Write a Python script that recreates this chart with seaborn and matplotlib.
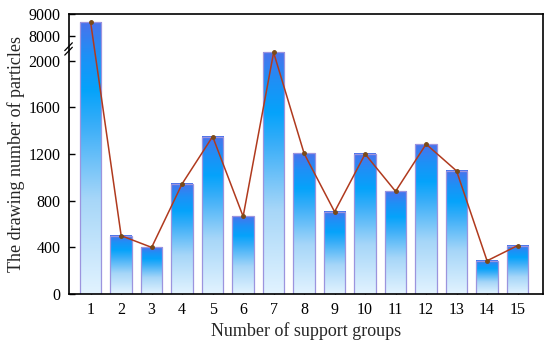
import numpy as np
import matplotlib
matplotlib.use("Agg")
import matplotlib.pyplot as plt
import seaborn as sns
from matplotlib.colors import LinearSegmentedColormap
from matplotlib.transforms import BboxTransformTo, TransformedBbox

# data
groups = [str(i) for i in range(1, 16)]
counts = [8620, 500, 400, 945, 1350, 665, 2070, 1205, 705, 1200, 880, 1285, 1055, 285, 415]
yticks = [0, 400, 800, 1200, 1600, 2000, 8000, 9000]

sns.set_theme(style="white")
plt.rcParams['font.family'] = ['Liberation Serif', 'DejaVu Serif']

# broken y axis: linear 0..LOW, squeezed gap, compressed linear HIGH..9000
LOW, HIGH, RATIO, EPS = 2112, 7500, 0.1923, 1e-6


def fwd(y):
    y = np.asarray(y, dtype=float)
    mid = LOW + (y - LOW) * EPS
    top = LOW + (HIGH - LOW) * EPS + (y - HIGH) * RATIO
    return np.where(y <= LOW, y, np.where(y < HIGH, mid, top))


def inv(v):
    v = np.asarray(v, dtype=float)
    g = LOW + (HIGH - LOW) * EPS
    mid = LOW + (v - LOW) / EPS
    top = HIGH + (v - g) / RATIO
    return np.where(v <= LOW, v, np.where(v < g, mid, top))


fig = plt.figure(figsize=(5.5, 3.48), dpi=100)
ax = fig.add_axes([0.1255, 0.155, 0.8615, 0.805])
ax.set_yscale('function', functions=(fwd, inv))

sns.barplot(x=groups, y=counts, ax=ax, width=0.7, color='#2F9BF5', saturation=1)

# vertical gradient inside each bar
grad_cmap = LinearSegmentedColormap.from_list(
    'bar', [(0.0, '#E2F3FF'), (0.35, '#A6D6F8'), (0.62, '#3AAEF8'),
            (0.75, '#05A3FB'), (0.88, '#1E90F6'), (1.0, '#4A72EC')])
grad = grad_cmap(np.linspace(0, 1, 256))[:, None, :3]
for p in list(ax.patches):
    tr = BboxTransformTo(TransformedBbox(p.get_bbox(), ax.transData))
    ax.imshow(grad, extent=(0, 1, 0, 1), origin='lower', aspect='auto',
              transform=tr, zorder=1, interpolation='bilinear')
    p.set_facecolor('none')
    p.set_edgecolor('#9C94DE')
    p.set_linewidth(0.9)
    p.set_zorder(2)

ax.plot(np.arange(len(counts)), counts, color='#B03A1E', lw=1.1, zorder=3,
        marker='o', ms=2.5, mfc='#7A4A18', mec='#7A4A18')

ax.set_xlim(-0.71, 14.83)
ax.set_ylim(0, 9000)
ax.set_yticks(yticks)
ax.set_yticklabels([str(t) for t in yticks])
ax.yaxis.set_minor_locator(matplotlib.ticker.NullLocator())

ax.tick_params(axis='both', direction='in', length=4, width=1, labelsize=11.5,
               colors='black', pad=6)
ax.tick_params(axis='x', bottom=True, top=False)
ax.tick_params(axis='y', left=True, right=False)
for s in ax.spines.values():
    s.set_color('black')
    s.set_linewidth(1.2)

# break marks on the left spine
yb = 0.875
for dy in (-0.008, 0.008):
    ax.plot([-0.009, 0.007], [yb + dy - 0.014, yb + dy + 0.014], transform=ax.transAxes,
            color='black', lw=0.9, clip_on=False, zorder=5)

ax.set_xlabel('Number of support groups', fontsize=13, labelpad=3)
ax.set_ylabel('The drawing number of particles', fontsize=13, labelpad=3)

fig.savefig('out.png', dpi=100)
